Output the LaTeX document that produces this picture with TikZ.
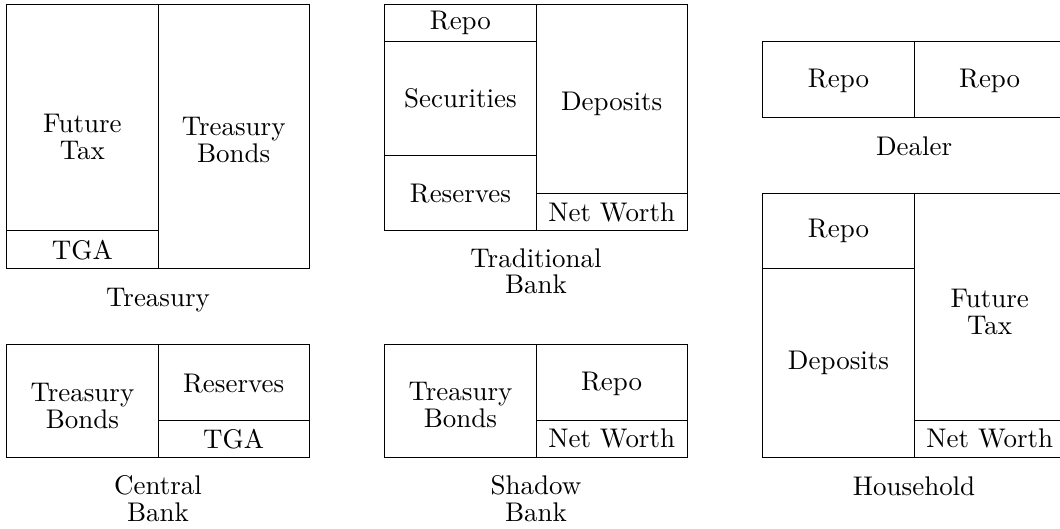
\documentclass[tikz,border=0pt]{standalone}
\usepackage{amsmath}
\usepackage{tikz}

\tikzset{
  cell/.style={font=\fontsize{10}{9.9}\selectfont, align=center, inner sep=0pt,
    scale=2.03, transform shape},
  owner/.style={cell, anchor=base},
}

\begin{document}
\begin{tikzpicture}[line width=.75pt]
\useasboundingbox (-0.18,0.11) rectangle (27.86,-13.86);
% Treasury
\draw (0,0) rectangle (8,-7);
\draw (4,0) -- (4,-7);
\draw (0,-6) -- (4,-6);
\node[cell] (tr-tax) at (2,-3.52) {Future\\Tax};
\node[cell] (tr-bonds) at (6,-3.6) {Treasury\\Bonds};
\node[cell] (tr-tga) at (2,-6.5) {TGA};
\node[owner] (tr) at (4,-8) {Treasury};
% Central Bank
\draw (0,-9) rectangle (8,-12);
\draw (4,-9) -- (4,-12);
\draw (4,-11) -- (8,-11);
\node[cell] (cb-bonds) at (2,-10.63) {Treasury\\Bonds};
\node[cell] (cb-res) at (6,-10.03) {Reserves};
\node[cell] (cb-tga) at (6,-11.5) {TGA};
\node[owner] (cb) at (4,-13.69) {Central\\Bank};
% Traditional Bank
\draw (10,0) rectangle (18,-6);
\draw (14,0) -- (14,-6);
\draw (10,-1) -- (14,-1);
\draw (10,-4) -- (14,-4);
\draw (14,-5) -- (18,-5);
\node[cell] (tb-repo) at (12,-0.5) {Repo};
\node[cell] (tb-sec) at (12,-2.5) {Securities};
\node[cell] (tb-res) at (12,-5) {Reserves};
\node[cell] (tb-dep) at (16,-2.65) {Deposits};
\node[cell] (tb-nw) at (16,-5.5) {Net Worth};
\node[owner] (tb) at (14,-7.66) {Traditional\\Bank};
% Shadow Bank
\draw (10,-9) rectangle (18,-12);
\draw (14,-9) -- (14,-12);
\draw (14,-11) -- (18,-11);
\node[cell] (sb-bonds) at (12,-10.6) {Treasury\\Bonds};
\node[cell] (sb-repo) at (16,-10.05) {Repo};
\node[cell] (sb-nw) at (16,-11.5) {Net Worth};
\node[owner] (sb) at (14,-13.69) {Shadow\\Bank};
% Dealer
\draw (20,-1) rectangle (28,-3);
\draw (24,-1) -- (24,-3);
\node[cell] (dl-repoa) at (22,-2.02) {Repo};
\node[cell] (dl-repol) at (26,-2.02) {Repo};
\node[owner] (dl) at (24,-4) {Dealer};
% Household
\draw (20,-5) rectangle (28,-12);
\draw (24,-5) -- (24,-12);
\draw (20,-7) -- (24,-7);
\draw (24,-11) -- (28,-11);
\node[cell] (hh-repo) at (22,-6) {Repo};
\node[cell] (hh-dep) at (22,-9.5) {Deposits};
\node[cell] (hh-tax) at (26,-8.15) {Future\\Tax};
\node[cell] (hh-nw) at (26,-11.5) {Net Worth};
\node[owner] (hh) at (24,-13) {Household};
\end{tikzpicture}
\end{document}
